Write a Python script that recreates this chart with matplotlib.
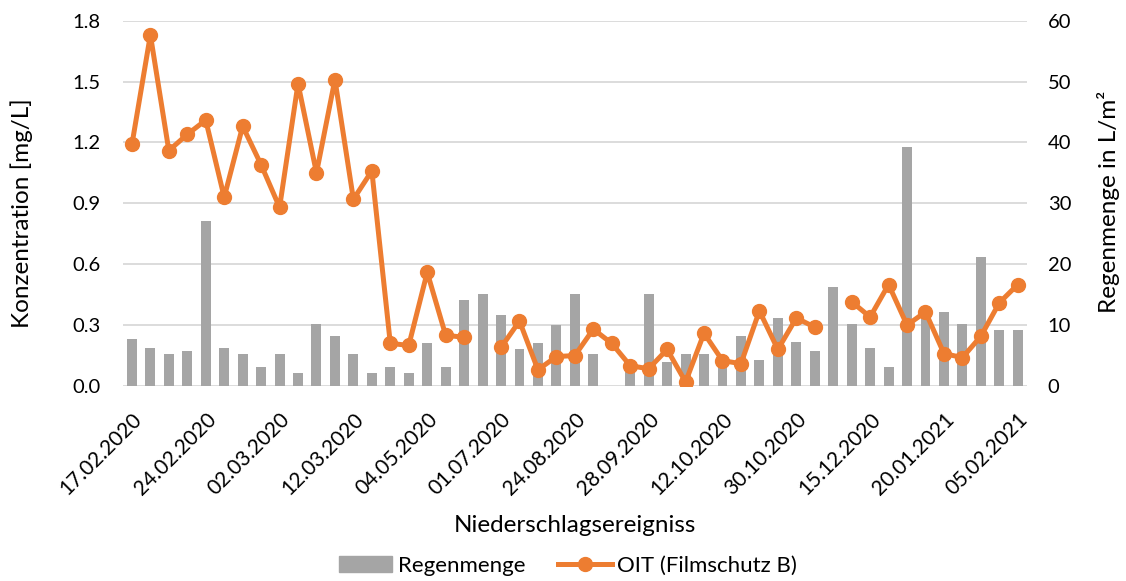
import numpy as np
import matplotlib
matplotlib.use("Agg")
import matplotlib.pyplot as plt
from matplotlib.patches import Patch
from matplotlib.lines import Line2D

plt.rcParams['font.family'] = ['Lato', 'DejaVu Sans']

# ---- data ----
tick_labels = ["17.02.2020", "24.02.2020", "02.03.2020", "12.03.2020", "04.05.2020",
               "01.07.2020", "24.08.2020", "28.09.2020", "12.10.2020", "30.10.2020",
               "15.12.2020", "20.01.2021", "05.02.2021"]

regenmenge = [7.7, 6.2, 5.2, 5.7, 27.1, 6.2, 5.2, 3.2, 5.2, 2.2,
              10.2, 8.2, 5.2, 2.2, 3.2, 2.1, 7.0, 3.1, 14.1, 15.1,
              11.6, 6.1, 7.1, 10.1, 15.1, 5.2, 0.0, 3.5, 15.1, 4.0,
              5.2, 5.2, 4.0, 8.2, 4.2, 11.2, 7.2, 5.7, 16.2, 10.2,
              6.2, 3.2, 39.2, 12.0, 12.2, 10.2, 21.2, 9.2, 9.2]

oit = [1.19, 1.73, 1.16, 1.24, 1.31, 0.93, 1.28, 1.09, 0.88, 1.49,
       1.05, 1.51, 0.92, 1.06, 0.21, 0.20, 0.56, 0.25, 0.24, np.nan,
       0.19, 0.32, 0.08, 0.145, 0.15, 0.28, 0.21, 0.10, 0.085, 0.18,
       0.02, 0.26, 0.125, 0.11, 0.37, 0.18, 0.335, 0.29, np.nan, 0.415,
       0.34, 0.50, 0.30, 0.365, 0.16, 0.14, 0.245, 0.41, 0.50]

ORANGE = "#ED7D31"
GREY = "#A5A5A5"
GRID = "#D9D9D9"
YTICK_FS = 14.5
XTICK_FS = 15
TITLE_FS = 17.5
LEG_FS = 16

W, H = 1126, 581
fig = plt.figure(figsize=(W / 100, H / 100), dpi=100)
ax2 = fig.add_axes([122.7 / W, 1 - 386 / H, (1027 - 122.7) / W, (386 - 20.7) / H])
ax = ax2.twinx()
ax2.yaxis.tick_right()
ax.yaxis.tick_left()

x = np.arange(len(regenmenge))

ax2.bar(x, regenmenge, width=0.54, color=GREY, zorder=2)
ax2.set_ylim(0, 60)
ax2.set_yticks(np.arange(0, 61, 10))
ax2.set_xlim(-0.5, len(regenmenge) - 0.5)
for yv in np.arange(0, 61, 10):
    ax2.axhline(yv, color=GRID, lw=1.3, zorder=1)

ax.plot(x, oit, color=ORANGE, lw=3.6, marker='o', markersize=10,
        solid_capstyle='round', solid_joinstyle='round', zorder=3)
ax.set_ylim(0, 1.8)
ax.set_yticks(np.arange(0, 1.81, 0.3))
ax.set_yticklabels([f"{v:.1f}" for v in np.arange(0, 1.81, 0.3)])

ax2.set_xticks(x[::4])
ax2.set_xticklabels(tick_labels, rotation=45, ha='right', rotation_mode='anchor')

for a in (ax, ax2):
    for s in a.spines.values():
        s.set_visible(False)
    a.tick_params(length=0, labelsize=YTICK_FS, colors='black')
    a.patch.set_visible(False)

ax2.tick_params(axis='x', labelsize=XTICK_FS, pad=17)
ax.tick_params(axis='y', pad=16)
ax2.tick_params(axis='y', pad=15)

fig.text(575 / W, 1 - 525 / H, "Niederschlagsereigniss", ha='center', va='center', fontsize=TITLE_FS)
fig.text(22 / W, 1 - 213 / H, "Konzentration [mg/L]", ha='center', va='center', rotation=90, fontsize=TITLE_FS)
fig.text(1108 / W, 1 - 202 / H, "Regenmenge in L/m²", ha='center', va='center', rotation=90, fontsize=TITLE_FS)

handles = [Patch(color=GREY, label="Regenmenge"),
           Line2D([0], [0], color=ORANGE, lw=3.6, marker='o', markersize=10, label="OIT (Filmschutz B)")]
fig.legend(handles=handles, loc='center', bbox_to_anchor=(568 / W, 1 - 566 / H), ncol=2,
           frameon=False, fontsize=LEG_FS, handlelength=2.4, handletextpad=0.25, columnspacing=1.5)

fig.savefig("out.png", dpi=100)
